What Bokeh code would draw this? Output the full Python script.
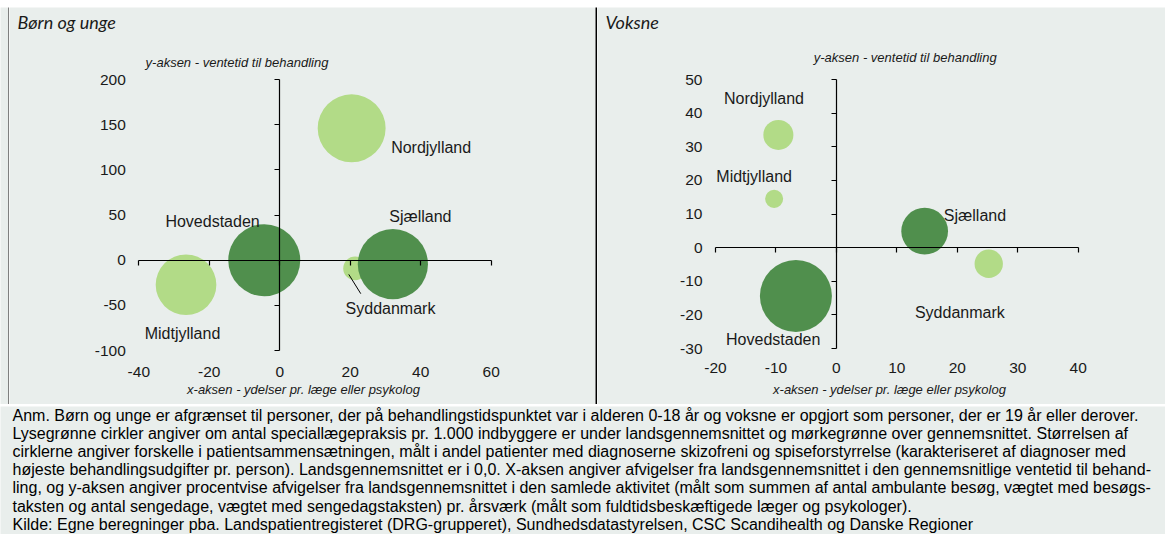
import numpy as np
from bokeh.plotting import figure
from bokeh.models import Range1d, LinearAxis, FixedTicker, ColumnDataSource
from bokeh.layouts import column, row
from bokeh.embed import file_html
from bokeh.resources import INLINE
from bokeh.core.properties import value

# ---------------- data ----------------
regions = ["Hovedstaden", "Midtjylland", "Nordjylland", "Syddanmark", "Sjælland"]
# dark green = speciallægepraksis pr. 1.000 indbyggere over landsgennemsnittet
above_avg = [True, False, False, False, True]

# Børn og unge
kids_x = [-4.4, -26.6, 20.4, 21.4, 32.1]
kids_y = [0.0, -27.2, 146.0, -9.1, -4.4]
kids_size = [10.0, 7.1, 8.9, 1.1, 9.5]

# Voksne
adult_x = [-6.7, -10.3, -9.6, 25.2, 14.6]
adult_y = [-14.4, 14.5, 33.5, -4.8, 4.9]
adult_size = [10.0, 0.63, 1.74, 1.55, 4.21]

kids_xticks = [-40, -20, 0, 20, 40, 60]
kids_yticks = [-100, -50, 0, 50, 100, 150, 200]
adult_xticks = [-20, -10, 0, 10, 20, 30, 40]
adult_yticks = [-30, -20, -10, 0, 10, 20, 30, 40, 50]

x_title = "x-aksen - ydelser pr. læge eller psykolog"
y_title = "y-aksen - ventetid til behandling"

footnote = [
    "Anm. Børn og unge er afgrænset til personer, der på behandlingstidspunktet var i alderen 0-18 år og voksne er opgjort som personer, der er 19 år eller derover.",
    "Lysegrønne cirkler angiver om antal speciallægepraksis pr. 1.000 indbyggere er under landsgennemsnittet og mørkegrønne over gennemsnittet. Størrelsen af",
    "cirklerne angiver forskelle i patientsammensætningen, målt i andel patienter med diagnoserne skizofreni og spiseforstyrrelse (karakteriseret af diagnoser med",
    "højeste behandlingsudgifter pr. person). Landsgennemsnittet er i 0,0. X-aksen angiver afvigelser fra landsgennemsnittet i den gennemsnitlige ventetid til behand-",
    "ling, og y-aksen angiver procentvise afvigelser fra landsgennemsnittet i den samlede aktivitet (målt som summen af antal ambulante besøg, vægtet med besøgs-",
    "taksten og antal sengedage, vægtet med sengedagstaksten) pr. årsværk (målt som fuldtidsbeskæftigede læger og psykologer).",
    "Kilde: Egne beregninger pba. Landspatientregisteret (DRG-grupperet),  Sundhedsdatastyrelsen, CSC Scandihealth og Danske Regioner",
]

# ---------------- style / layout ----------------
BG = "#E9EEEC"
LIGHT = "#B2DB87"
DARK = "#508F4D"
TXT = "#1a1a1a"
FONT = "Liberation Sans"
MAX_D = 72  # px diameter of the largest bubble

# label offsets in px (dx, dy down) per region
kids_offsets = [(-51.7, -39), (-3.5, 48.8), (79.5, 19.5), (35.3, 40.3), (27.5, -47.7)]
adult_offsets = [(-22.7, 43.3), (-20, -22.3), (-14.4, -36.6), (-28.9, 48.5), (50.3, -15.7)]


def make_panel(title, xs, ys, sizes, xticks, yticks, offsets, W, H, ml, mt, fw, fh,
               xlab_standoff, ylab_standoff, ytitle_pos, xtitle_pos, title_pos, leader=None):
    xmin, xmax = xticks[0], xticks[-1]
    ymin, ymax = yticks[0], yticks[-1]
    sx = fw / (xmax - xmin)
    sy = fh / (ymax - ymin)
    x0 = xmin - ml / sx
    ytop = ymax + mt / sy
    p = figure(width=W, height=H, x_range=Range1d(x0, x0 + W / sx),
               y_range=Range1d(ytop - H / sy, ytop),
               toolbar_location=None, output_backend="svg", x_axis_type=None, y_axis_type=None,
               min_border=0)
    p.background_fill_color = BG
    p.border_fill_color = BG
    p.outline_line_color = None

    def to_data(cx, cy):
        return x0 + cx / sx, ytop - cy / sy

    def hy(t):
        return {t_: str(t_) for t_ in t}

    # label-only axes at the edges of the plot area
    ly = LinearAxis(ticker=FixedTicker(ticks=yticks), fixed_location=xmin, bounds=(ymin, ymax),
                    axis_line_color=None, major_tick_line_color=None, minor_tick_line_color=None,
                    major_tick_out=0, major_tick_in=0, major_label_standoff=ylab_standoff,
                    major_label_overrides=hy(yticks),
                    major_label_text_font=FONT, major_label_text_font_size="15.5px",
                    major_label_text_color=TXT)
    p.add_layout(ly, "left")
    lx = LinearAxis(ticker=FixedTicker(ticks=xticks), fixed_location=ymin, bounds=(xmin, xmax),
                    axis_line_color=None, major_tick_line_color=None, minor_tick_line_color=None,
                    major_tick_out=0, major_tick_in=0, major_label_standoff=xlab_standoff,
                    major_label_overrides=hy(xticks),
                    major_label_text_font=FONT, major_label_text_font_size="15.5px",
                    major_label_text_color=TXT)
    p.add_layout(lx, "below")
    # crossing axes through 0,0 (line + ticks only)
    ay = LinearAxis(ticker=FixedTicker(ticks=yticks), fixed_location=0, bounds=(ymin, ymax),
                    axis_line_color="black", axis_line_width=1.2,
                    major_tick_line_color="black", major_tick_line_width=1.2,
                    minor_tick_line_color=None, major_tick_out=5, major_tick_in=0,
                    major_label_overrides={t: "" for t in yticks}, major_label_standoff=0)
    p.add_layout(ay, "left")
    ax = LinearAxis(ticker=FixedTicker(ticks=xticks), fixed_location=0, bounds=(xmin, xmax),
                    axis_line_color="black", axis_line_width=1.2,
                    major_tick_line_color="black", major_tick_line_width=1.2,
                    minor_tick_line_color=None, major_tick_out=5, major_tick_in=0,
                    major_label_overrides={t: "" for t in xticks}, major_label_standoff=0)
    p.add_layout(ax, "below")

    smax = max(sizes)
    src = ColumnDataSource(dict(
        x=xs, y=ys, name=regions,
        d=[MAX_D * np.sqrt(s / smax) for s in sizes],
        color=[DARK if a else LIGHT for a in above_avg],
        dx=[o[0] for o in offsets], dy=[o[1] for o in offsets],
    ))
    p.scatter("x", "y", size="d", fill_color="color", line_color=None, marker="circle", source=src)

    if leader is not None:
        i, (a0, b0), (a1, b1) = leader
        p.segment(x0=[xs[i] + a0 / sx], y0=[ys[i] - b0 / sy],
                  x1=[xs[i] + a1 / sx], y1=[ys[i] - b1 / sy],
                  line_color="black", line_width=1)

    p.text("x", "y", text="name", x_offset="dx", y_offset="dy", source=src,
           text_align="center", text_baseline="middle",
           text_font=value(FONT), text_font_size="16px", text_color=TXT)

    for txt, pos, align, font, size in [
        (y_title, ytitle_pos, "center", FONT, "13px"),
        (x_title, xtitle_pos, "center", FONT, "13px"),
        (title, title_pos, "left", "Lato", "18px"),
    ]:
        tx, ty = to_data(*pos)
        p.text(x=[tx], y=[ty], text=[txt], text_align=align, text_baseline="middle",
               text_font=value(font), text_font_style="italic", text_font_size=size,
               text_color=TXT)
    return p


left = make_panel("Børn og unge", kids_x, kids_y, kids_size, kids_xticks, kids_yticks,
                  kids_offsets, W=586, H=397, ml=129.3, mt=72, fw=352.4, fh=271,
                  xlab_standoff=16, ylab_standoff=13,
                  ytitle_pos=(227.5, 54.7), xtitle_pos=(294, 382), title_pos=(8, 14),
                  leader=(3, (-6.4, 6), (5.6, 25.3)))
right = make_panel("Voksne", adult_x, adult_y, adult_size, adult_xticks, adult_yticks,
                   adult_offsets, W=568, H=397, ml=118, mt=72, fw=362.7, fh=269,
                   xlab_standoff=14, ylab_standoff=13,
                   ytitle_pos=(307.7, 50), xtitle_pos=(292, 382), title_pos=(8, 14))


def strip(w, h, color):
    b = figure(width=w, height=h, toolbar_location=None, output_backend="svg",
               x_axis_type=None, y_axis_type=None, min_border=0)
    b.background_fill_color = color
    b.border_fill_color = color
    b.outline_line_color = None
    return b


foot = figure(width=1165, height=128, x_range=Range1d(0, 1165), y_range=Range1d(128, 0),
              toolbar_location=None, output_backend="svg", x_axis_type=None, y_axis_type=None,
              min_border=0)
foot.background_fill_color = BG
foot.border_fill_color = BG
foot.outline_line_color = None
foot.text(x=[12] * len(footnote), y=[9 + 18.1 * i for i in range(len(footnote))], text=footnote,
          text_align="left", text_baseline="middle", text_font=value(FONT),
          text_font_size="16px", text_color="black")

layout = column(
    strip(1165, 5, BG),
    strip(1165, 2, "black"),
    row(strip(8, 397, BG), strip(1, 397, "black"), left, strip(2, 397, "black"), right),
    strip(1165, 2, "black"),
    foot,
)

open("out.html", "w").write(file_html(layout, INLINE))
